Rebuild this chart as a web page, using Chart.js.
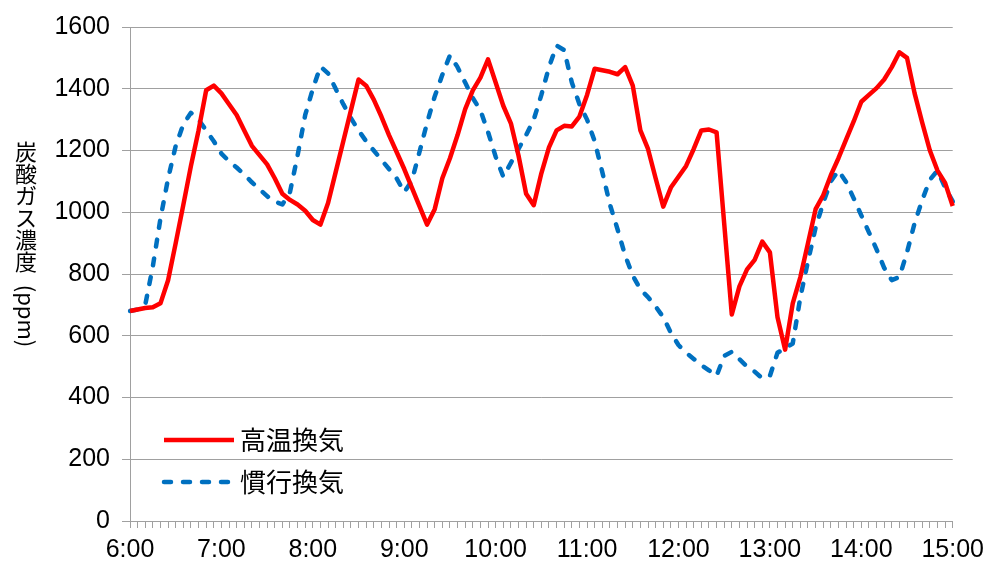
<!DOCTYPE html>
<html><head><meta charset="utf-8">
<script src="https://cdn.jsdelivr.net/npm/chart.js@4.4.1/dist/chart.umd.min.js"></script>
<style>html,body{margin:0;padding:0;background:#fff;}#wrap{width:991px;height:567px;}</style>
</head><body><div id="wrap"><canvas id="c" width="991" height="567"></canvas></div>
<script>
const timeCategories = [
"6:00","6:05","6:10","6:15","6:20","6:25","6:30","6:35","6:40","6:45","6:50","6:55",
"7:00","7:05","7:10","7:15","7:20","7:25","7:30","7:35","7:40","7:45","7:50","7:55",
"8:00","8:05","8:10","8:15","8:20","8:25","8:30","8:35","8:40","8:45","8:50","8:55",
"9:00","9:05","9:10","9:15","9:20","9:25","9:30","9:35","9:40","9:45","9:50","9:55",
"10:00","10:05","10:10","10:15","10:20","10:25","10:30","10:35","10:40","10:45","10:50","10:55",
"11:00","11:05","11:10","11:15","11:20","11:25","11:30","11:35","11:40","11:45","11:50","11:55",
"12:00","12:05","12:10","12:15","12:20","12:25","12:30","12:35","12:40","12:45","12:50","12:55",
"13:00","13:05","13:10","13:15","13:20","13:25","13:30","13:35","13:40","13:45","13:50","13:55",
"14:00","14:05","14:10","14:15","14:20","14:25","14:30","14:35","14:40","14:45","14:50","14:55",
"15:00"];
const xTickLabels = ["6:00","7:00","8:00","9:00","10:00","11:00","12:00","13:00","14:00","15:00"];
const yTickValues = [0,200,400,600,800,1000,1200,1400,1600];
const seriesNames = ["高温換気","慣行換気"];
const highTempVent = [
680,685,690,692,705,780,900,1024,1150,1265,
1395,1410,1385,1350,1315,1265,1215,1185,1155,1110,
1060,1040,1025,1005,975,960,1030,1130,1230,1330,
1430,1410,1365,1310,1250,1195,1140,1080,1020,960,
1010,1110,1175,1250,1334,1395,1436,1495,1420,1345,
1288,1184,1060,1023,1126,1210,1265,1280,1278,1310,
1380,1465,1460,1455,1447,1470,1410,1265,1205,1110,
1018,1080,1115,1150,1205,1265,1268,1259,964,669,
760,815,846,905,870,660,555,705,790,900,
1010,1055,1120,1175,1235,1294,1358,1380,1402,1430,
1470,1518,1500,1385,1290,1200,1135,1095,1020];
const conventionalVent = [
680,685,700,825,980,1109,1215,1285,1322,1300,
1265,1230,1190,1165,1145,1122,1097,1075,1052,1035,
1025,1065,1184,1315,1400,1472,1450,1400,1350,1305,
1265,1230,1200,1170,1140,1110,1065,1102,1195,1290,
1375,1445,1508,1470,1420,1370,1330,1260,1180,1115,
1160,1205,1250,1300,1380,1470,1540,1525,1420,1350,
1300,1230,1130,1025,945,860,795,750,725,695,
660,610,570,545,525,505,488,470,535,548,
524,500,484,462,470,545,560,575,725,841,
950,1030,1100,1135,1098,1045,990,935,880,820,
780,790,870,965,1040,1105,1135,1080,1035];

const GRID = '#a0a0a0';
const TICK_FONT = {family:"'Liberation Sans',sans-serif", size:25};
const JP = "'Noto Sans CJK JP','Noto Sans CJK SC',sans-serif";

const overlay = {
  id:'overlay',
  afterDraw(chart){
    const ctx = chart.ctx;
    ctx.save();
    ctx.fillStyle = '#000';
    ctx.font = "22px " + JP;
    ctx.textAlign = 'center';
    ctx.textBaseline = 'middle';
    const chars = ['炭','酸','ガ','ス','濃','度'];
    chars.forEach((ch,i)=>ctx.fillText(ch, 26, 152 + i*22));
    ctx.translate(26, 316);
    ctx.rotate(Math.PI/2);
    ctx.fillText('(ppm)', 0, 0);
    ctx.restore();
    ctx.save();
    const ds = chart.data.datasets;
    const rows = [440, 482];
    ds.forEach((d,i)=>{
      const y = rows[i];
      ctx.beginPath();
      ctx.strokeStyle = d.borderColor;
      ctx.lineWidth = d.borderWidth;
      ctx.lineCap = d.borderCapStyle || 'butt';
      ctx.setLineDash(d.borderDash || []);
      ctx.moveTo(164, y); ctx.lineTo(234, y);
      ctx.stroke();
      ctx.setLineDash([]);
      ctx.fillStyle = '#000';
      ctx.font = "26px " + JP;
      ctx.textAlign = 'left';
      ctx.textBaseline = 'middle';
      ctx.fillText(d.label, 240, y);
    });
    ctx.restore();
  }
};

new Chart(document.getElementById('c'), {
  type:'line',
  data:{
    labels: timeCategories,
    datasets:[
      {label:seriesNames[0], data:highTempVent, borderColor:'#ff0000', borderWidth:4.5, pointRadius:0, tension:0, fill:false, borderJoinStyle:'round'},
      {label:seriesNames[1], data:conventionalVent, borderColor:'#0070c0', borderWidth:4.5, borderDash:[7,12], borderCapStyle:'round', pointRadius:0, tension:0, fill:false, borderJoinStyle:'round'}
    ]
  },
  options:{
    responsive:false, animation:false, devicePixelRatio:1,
    layout:{padding:{left:0,right:38,top:24,bottom:0}},
    plugins:{legend:{display:false}, tooltip:{enabled:false}, title:{display:false}},
    scales:{
      x:{
        type:'category', offset:false,
        grid:{display:true, drawOnChartArea:false, drawTicks:true, tickLength:7, color:GRID, lineWidth:1},
        border:{display:true, color:GRID, width:1},
        ticks:{autoSkip:false, maxRotation:0, minRotation:0, padding:7, color:'#000', font:TICK_FONT,
          callback:(v,i)=> (i%12===0 ? xTickLabels[i/12] : '')},
        afterFit(s){ s.height = 46; }
      },
      y:{
        min:yTickValues[0], max:yTickValues[yTickValues.length-1],
        grid:{color:GRID, lineWidth:1, tickLength:8, drawTicks:true},
        border:{display:true, color:GRID, width:1},
        ticks:{stepSize:200, padding:12, color:'#000', font:TICK_FONT, callback:(v)=>String(v)},
        afterFit(s){ s.width = 130; }
      }
    }
  },
  plugins:[overlay]
});
</script></body></html>
